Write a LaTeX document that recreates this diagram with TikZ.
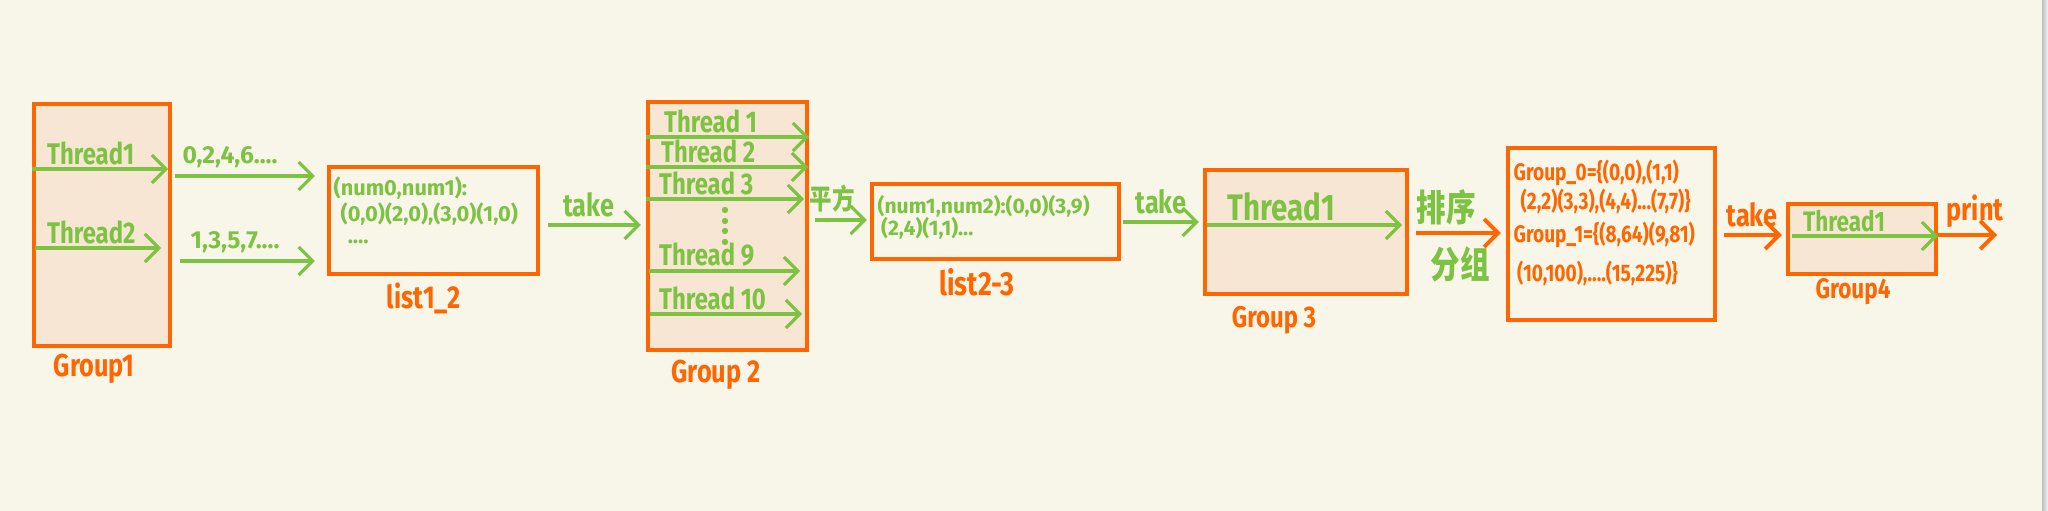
\documentclass[tikz,border=0pt]{standalone}
\usepackage{fontspec}
\setmainfont{Fira Sans}[FakeStretch=0.8]
\newfontfamily\numfont{Fira Sans}
\newfontfamily\cjk{Noto Sans CJK SC}[FakeStretch=0.8]
\usepackage{tikz}
\usetikzlibrary{arrows.meta}

\definecolor{penorange}{RGB}{255,102,0}
\definecolor{pengreen}{RGB}{125,194,66}
\definecolor{boxfill}{RGB}{247,230,211}
\definecolor{paper}{RGB}{248,245,233}

\newcommand\fsz[1]{\fontsize{#1}{#1}\selectfont}

\tikzset{
	grp/.style={draw=penorange, line width=1.2pt, fill=boxfill, inner sep=0pt},
	lst/.style={draw=penorange, line width=1.2pt, inner sep=0pt},
	gname/.style={text=penorange, inner sep=0pt, font=\bfseries\fsz{#1}},
	thr/.style={text=pengreen, anchor=south west, inner sep=1pt, font=\bfseries\fsz{#1}},
	tag/.style={anchor=south, inner sep=2pt},
	flow/.style={->, draw=pengreen, line width=0.9pt},
	oflow/.style={->, draw=penorange, line width=1.1pt}
}

\begin{document}
\begin{tikzpicture}[>={Straight Barb[length=4pt,width=8pt]}]
	\useasboundingbox (0,0) rectangle (20.48,5.11);
	\fill[paper] (0,0) rectangle (20.42,5.11);
	\shade[left color=black!25, right color=black!5] (20.42,0) rectangle (20.48,5.11);

	% boxes
	\node[grp, minimum width=1.36cm, minimum height=2.42cm] (g1) at (1.02,2.86) {};
	\node[lst, minimum width=2.09cm, minimum height=1.07cm] (l12) at (4.335,2.905) {};
	\node[grp, minimum width=1.59cm, minimum height=2.48cm] (g2) at (7.275,2.85) {};
	\node[lst, minimum width=2.47cm, minimum height=0.75cm] (l23) at (9.955,2.895) {};
	\node[grp, minimum width=2.02cm, minimum height=1.24cm] (g3) at (13.06,2.79) {};
	\node[lst, minimum width=2.07cm, minimum height=1.72cm] (sets) at (16.115,2.77) {};
	\node[grp, minimum width=1.48cm, minimum height=0.70cm] (g4) at (18.62,2.72) {};

	% names under the boxes
	\node[gname=9] (g1name) at (0.94,1.42) {Group1};
	\node[gname=9] (l12name) at (4.24,2.13) {list1\_2};
	\node[gname=9] (g2name) at (7.16,1.36) {Group 2};
	\node[gname=9.5] (l23name) at (9.77,2.29) {list2-3};
	\node[gname=8.5] (g3name) at (12.74,1.91) {Group 3};
	\node[gname=8] (g4name) at (18.53,2.19) {Group4};

	% threads
	\node[thr=8.5] (t11) at (0.43,3.42) {Thread1};
	\node[thr=8.5] (t12) at (0.43,2.63) {Thread2};
	\draw[flow, shorten >=0.04cm] (g1.west |- t11.south) -- (g1.east |- t11.south);
	\draw[flow, shorten <=0.03cm, shorten >=0.11cm] (g1.west |- t12.south) -- (g1.east |- t12.south);

	\node[thr=8.5] (t21) at (6.60,3.74) {Thread 1};
	\node[thr=8.5] (t22) at (6.57,3.44) {Thread 2};
	\node[thr=8.5] (t23) at (6.55,3.12) {Thread 3};
	\node[thr=8.5] (t29) at (6.55,2.40) {Thread 9};
	\node[thr=8.5] (t210) at (6.55,1.97) {Thread 10};
	\draw[flow] (g2.west |- t21.south) -- (g2.east |- t21.south);
	\draw[flow, shorten >=0.01cm] (g2.west |- t22.south) -- (g2.east |- t22.south);
	\draw[flow, shorten >=0.05cm] (g2.west |- t23.south) -- (g2.east |- t23.south);
	\draw[flow, shorten <=0.03cm, shorten >=0.09cm] (g2.west |- t29.south) -- (g2.east |- t29.south);
	\draw[flow, shorten <=0.04cm, shorten >=0.07cm] (g2.west |- t210.south) -- (g2.east |- t210.south);
	\foreach \d in {3.01,2.90,2.80,2.69}
		\fill[pengreen] (7.25,\d) circle (0.9pt);

	\node[thr=10.5] (t31) at (12.23,2.86) {Thread1};
	\draw[flow, shorten <=0.04cm, shorten >=0.07cm] (g3.west |- t31.south) -- (g3.east |- t31.south);

	\node[thr=8] (t41) at (17.99,2.75) {Thread1};
	\draw[flow, shorten <=0.06cm] (g4.west |- t41.south) -- (g4.east |- t41.south);

	% list contents
	\node[anchor=north west, inner sep=0pt, align=left, text=pengreen,
		font=\numfont\bfseries\fontsize{6.2}{6.2}\selectfont] (l12txt) at (3.33,3.35)
		{(num0,num1):\\\hspace{2pt}(0,0)(2,0),(3,0)(1,0)\\\hspace{4pt}....};
	\node[anchor=north west, inner sep=0pt, align=left, text=pengreen,
		font=\numfont\bfseries\fontsize{6}{6.3}\selectfont] (l23txt) at (8.77,3.16)
		{(num1,num2):(0,0)(3,9)\\\hspace{1pt}(2,4)(1,1)...};
	\node[anchor=north west, inner sep=0pt, align=left, text=penorange,
		font=\bfseries\fontsize{6.8}{7.1}\selectfont] (setstxt) at (15.13,3.52)
		{Group\_0=\{(0,0),(1,1)\\\hspace{2pt}(2,2)(3,3),(4,4)...(7,7)\}\\[2.3pt]
		 Group\_1=\{(8,64)(9,81)\\[2.6pt]\hspace{1pt}(10,100),....(15,225)\}};

	% flow between boxes
	\node[tag, text=pengreen, font=\numfont\bfseries\fsz{7}] (n1) at (2.30,3.35) {0,2,4,6....};
	\node[tag, text=pengreen, font=\numfont\bfseries\fsz{7}] (n2) at (2.35,2.50) {1,3,5,7....};
	\draw[flow, shorten <=0.03cm, shorten >=0.12cm] (g1.east |- n1.south) -- (l12.west |- n1.south);
	\draw[flow, shorten <=0.08cm, shorten >=0.12cm] (g1.east |- n2.south) -- (l12.west |- n2.south);

	\node[tag, text=pengreen, font=\bfseries\fsz{9}] (take1) at (5.89,2.86) {take};
	\draw[flow, shorten <=0.08cm, shorten >=0.05cm] (l12.east |- take1.south) -- (g2.west |- take1.south);

	\node[tag, text=pengreen, font=\cjk\bfseries\fsz{8}] (sq) at (8.32,2.91) {平方};
	\draw[flow, shorten <=0.06cm, shorten >=0.03cm] (g2.east |- sq.south) -- (l23.west |- sq.south);

	\node[tag, text=pengreen, font=\bfseries\fsz{9}] (take2) at (11.61,2.89) {take};
	\draw[flow, shorten <=0.02cm, shorten >=0.04cm] (l23.east |- take2.south) -- (g3.west |- take2.south);

	\node[tag, text=pengreen, font=\cjk\bfseries\fsz{10.5}] (sort) at (14.46,2.78) {排序};
	\node[anchor=north, inner sep=2pt, text=pengreen, font=\cjk\bfseries\fsz{10.5}] (split) at (14.60,2.72) {分组};
	\draw[oflow, shorten <=0.07cm, shorten >=0.05cm] (g3.east |- sort.south) -- (sets.west |- sort.south);

	\node[tag, text=penorange, font=\bfseries\fsz{9}] (take3) at (17.52,2.76) {take};
	\draw[oflow, shorten <=0.07cm, shorten >=0.04cm] (sets.east |- take3.south) -- (g4.west |- take3.south);

	\node[tag, text=penorange, font=\bfseries\fsz{9}] (prt) at (19.75,2.76) {print};
	\coordinate (out) at (19.97,2.76);
	\draw[oflow] (g4.east |- prt.south) -- (out);
\end{tikzpicture}
\end{document}
